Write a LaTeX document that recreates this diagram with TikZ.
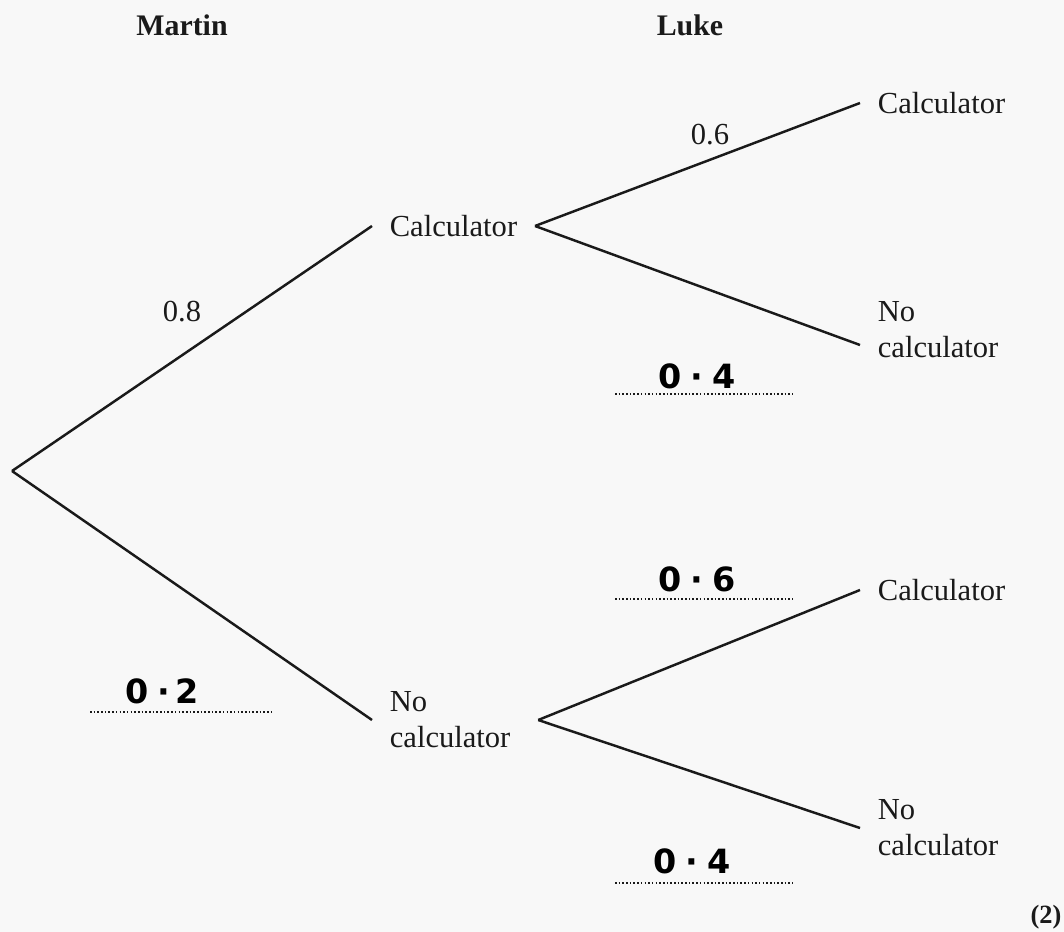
\documentclass[tikz,border=0pt]{standalone}
\usepackage{fontspec}
\setmainfont{Liberation Serif}
\newfontfamily\handfont{DejaVu Sans}
\usepackage{tikz}
\usetikzlibrary{calc}
\definecolor{tdink}{HTML}{1A1A1A}
\definecolor{tdpaper}{HTML}{F8F8F8}

\begin{document}
\begin{tikzpicture}[x={(0.02cm,0)}, y={(0,-0.02cm)},
  font=\fontsize{17.4}{20.4}\selectfont, text=tdink,
  lbl/.style={anchor=west, align=left, inner xsep=0.35cm, inner ysep=0pt},
  head/.style={font=\fontsize{17}{20}\selectfont\bfseries},
  hand/.style={font=\handfont\bfseries\fontsize{19}{22}\selectfont, text=black},
  br/.style={draw=tdink, line width=1.4pt},
  answer/.style={draw=tdink, line width=0.9pt, dash pattern=on 0.9pt off 1.2pt}]
  \fill[tdpaper] (0,0) rectangle (1064,932);
  \useasboundingbox (0,0) rectangle (1064,932);
  % headings
  \node[head] (martin) at (182,25) {Martin};
  \node[head] (luke)   at (690,25) {Luke};
  % Martin
  \coordinate (root) at (12,471);
  \node[lbl] (mc) at (372,226) {Calculator};
  \node[lbl] (mn) at (372,720) {No\\calculator};
  \coordinate (mcfork) at (mc.east);
  \coordinate (mnfork) at ([xshift=0.2cm]mn.east);
  % Luke
  \node[lbl] (lcc) at (860,103) {Calculator};
  \node[lbl] (lcn) at (860,330) {No\\calculator};
  \node[lbl] (lnc) at (860,590) {Calculator};
  \node[lbl] (lnn) at (860,828) {No\\calculator};
  % branches
  \foreach \a/\b in {root/mc.west, root/mn.west, mcfork/lcc.west,
                     mnfork/lnc.west, mnfork/lnn.west}
    \draw[br] (\a) -- (\b);
  \draw[br] (mcfork) -- ($(lcn.west)+(0,15)$);
  % printed probabilities
  \node (p08) at (182,312) {0.8};
  \node (p06) at (710,135) {0.6};
  % written answers
  \node[hand] (a1) at (697,376) {0\hspace{5pt}·\hspace{5pt}4};
  \coordinate (a1l) at (615,394); \coordinate (a1r) at (793,394);
  \node[hand] (a2) at (697,579) {0\hspace{5pt}·\hspace{5pt}6};
  \coordinate (a2l) at (615,599); \coordinate (a2r) at (793,599);
  \node[hand] (a3) at (162,691) {0\hspace{5pt}·\hspace{3pt}2};
  \coordinate (a3l) at (90,712);  \coordinate (a3r) at (272,712);
  \node[hand] (a4) at (692,861) {0\hspace{5pt}·\hspace{5pt}4};
  \coordinate (a4l) at (615,883); \coordinate (a4r) at (793,883);
  \foreach \i in {1,2,3,4} \draw[answer] (a\i l) -- (a\i r);
  \node[head, font=\fontsize{15}{18}\selectfont\bfseries] (marks) at (1046,917) {(2)};
\end{tikzpicture}
\end{document}
